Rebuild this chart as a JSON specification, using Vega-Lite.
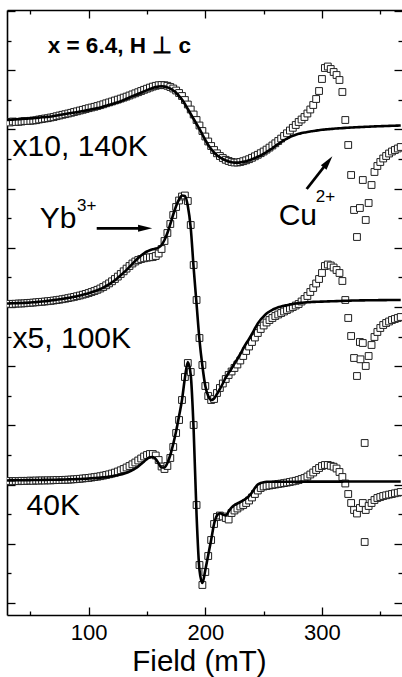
{
  "$schema": "https://vega.github.io/schema/vega-lite/v6.json",
  "width": 395,
  "height": 605,
  "autosize": "none",
  "padding": {"left": 7, "top": 10, "right": 0, "bottom": 62},
  "background": "white",
  "config": {"view": {"stroke": null}, "font": "Liberation Sans", "axis": {"grid": false}},
  "datasets": {
    "spectra": [
      {"B":30,"t":493,"tf":495,"m":311,"mf":311.5,"b":133.5,"bf":134.5},
      {"B":32.5,"t":492.5,"tf":495.2,"m":311.2,"mf":311.6,"b":134,"bf":134.6},
      {"B":35,"t":493.5,"tf":495.4,"m":311,"mf":311.7,"b":133.7,"bf":134.6},
      {"B":37.5,"t":493,"tf":495.6,"m":311.3,"mf":311.8,"b":134,"bf":134.7},
      {"B":40,"t":493.2,"tf":495.8,"m":311.5,"mf":311.9,"b":133.8,"bf":134.7},
      {"B":42.5,"t":493.5,"tf":496,"m":311.5,"mf":312,"b":134.2,"bf":134.8},
      {"B":45,"t":494,"tf":496.2,"m":311.7,"mf":312.1,"b":134,"bf":134.8},
      {"B":47.5,"t":494,"tf":496.4,"m":312,"mf":312.3,"b":134.2,"bf":134.9},
      {"B":50,"t":494.2,"tf":496.6,"m":312.2,"mf":312.5,"b":134.4,"bf":134.9},
      {"B":52.5,"t":494.5,"tf":496.8,"m":312.4,"mf":312.7,"b":134.2,"bf":135},
      {"B":55,"t":494.8,"tf":497.1,"m":312.7,"mf":312.9,"b":134.5,"bf":135},
      {"B":57.5,"t":495.5,"tf":497.4,"m":313,"mf":313.2,"b":134.4,"bf":135},
      {"B":60,"t":496,"tf":497.7,"m":313.2,"mf":313.5,"b":134.6,"bf":135.1},
      {"B":62.5,"t":496.5,"tf":497.9,"m":313.5,"mf":313.8,"b":134.5,"bf":135.1},
      {"B":65,"t":496.8,"tf":498.1,"m":313.8,"mf":314.1,"b":134.7,"bf":135.2},
      {"B":67.5,"t":497.5,"tf":498.5,"m":314.1,"mf":314.5,"b":134.6,"bf":135.2},
      {"B":70,"t":498,"tf":499,"m":314.5,"mf":314.9,"b":134.8,"bf":135.3},
      {"B":72.5,"t":498.8,"tf":499.5,"m":314.9,"mf":315.3,"b":135,"bf":135.3},
      {"B":75,"t":499.5,"tf":500,"m":315.3,"mf":315.7,"b":134.9,"bf":135.4},
      {"B":77.5,"t":500.2,"tf":500.5,"m":315.8,"mf":316.1,"b":135.1,"bf":135.4},
      {"B":80,"t":500.8,"tf":501,"m":316.3,"mf":316.6,"b":135.2,"bf":135.5},
      {"B":82.5,"t":501.5,"tf":501.5,"m":316.9,"mf":317.1,"b":135.3,"bf":135.6},
      {"B":85,"t":502.2,"tf":502,"m":317.5,"mf":317.6,"b":135.5,"bf":135.7},
      {"B":87.5,"t":503,"tf":502.4,"m":318.1,"mf":318.2,"b":135.7,"bf":135.8},
      {"B":90,"t":503.7,"tf":502.9,"m":318.8,"mf":318.8,"b":135.9,"bf":135.9},
      {"B":92.5,"t":504.5,"tf":503.4,"m":319.5,"mf":319.5,"b":136.2,"bf":136},
      {"B":95,"t":505.2,"tf":504,"m":320.3,"mf":320.2,"b":136.5,"bf":136.1},
      {"B":97.5,"t":506,"tf":504.5,"m":321.1,"mf":321,"b":136.8,"bf":136.3},
      {"B":100,"t":506.8,"tf":505.1,"m":322,"mf":321.8,"b":137.1,"bf":136.5},
      {"B":102.5,"t":507.5,"tf":505.7,"m":323,"mf":322.7,"b":137.5,"bf":136.7},
      {"B":105,"t":508.2,"tf":506.3,"m":324,"mf":323.7,"b":137.9,"bf":136.9},
      {"B":107.5,"t":509,"tf":506.9,"m":325.2,"mf":324.8,"b":138.3,"bf":137.1},
      {"B":110,"t":509.8,"tf":507.5,"m":326.5,"mf":326,"b":138.8,"bf":137.4},
      {"B":112.5,"t":510.7,"tf":508.4,"m":328,"mf":327.4,"b":139.4,"bf":137.7},
      {"B":115,"t":511.7,"tf":509.3,"m":329.7,"mf":329,"b":140,"bf":138},
      {"B":117.5,"t":512.6,"tf":510.2,"m":331.6,"mf":330.7,"b":140.7,"bf":138.4},
      {"B":120,"t":513.5,"tf":511,"m":333.7,"mf":332.7,"b":141.5,"bf":138.8},
      {"B":122.5,"t":514.5,"tf":511.9,"m":336,"mf":334.8,"b":142.4,"bf":139.3},
      {"B":125,"t":515.4,"tf":512.8,"m":338.4,"mf":337.2,"b":143.5,"bf":139.8},
      {"B":127.5,"t":516.4,"tf":513.8,"m":341,"mf":339.7,"b":144.7,"bf":140.4},
      {"B":130,"t":517.4,"tf":515,"m":343.7,"mf":342.4,"b":146,"bf":141.2},
      {"B":132.5,"t":518.4,"tf":516.2,"m":346.4,"mf":345.2,"b":147.5,"bf":142.2},
      {"B":135,"t":519.5,"tf":517.5,"m":349,"mf":348.2,"b":149,"bf":143.4},
      {"B":137.5,"t":520.6,"tf":518.9,"m":351.5,"mf":351.2,"b":150.7,"bf":144.8},
      {"B":140,"t":521.7,"tf":520,"m":353.5,"mf":354.2,"b":152.5,"bf":146.5},
      {"B":142.5,"t":522.8,"tf":521.2,"m":355,"mf":357,"b":154.5,"bf":148.5},
      {"B":145,"t":524,"tf":522.4,"m":356,"mf":359.5,"b":156.5,"bf":151},
      {"B":147.5,"t":525.2,"tf":523.6,"m":356.7,"mf":361.7,"b":158.5,"bf":153.5},
      {"B":150,"t":526.3,"tf":524.9,"m":357.3,"mf":363.5,"b":160,"bf":156},
      {"B":152.5,"t":527.4,"tf":526,"m":357.7,"mf":364.8,"b":161,"bf":157.7},
      {"B":155,"t":528.4,"tf":527,"m":358,"mf":365.7,"b":161,"bf":158},
      {"B":157.5,"t":529.2,"tf":527.9,"m":359,"mf":366.4,"b":159.5,"bf":156},
      {"B":160,"t":529.8,"tf":528.5,"m":361.5,"mf":367.5,"b":155,"bf":151.5},
      {"B":162.5,"t":530,"tf":528.7,"m":366,"mf":370,"b":148.5,"bf":147.5},
      {"B":165,"t":529.8,"tf":528.4,"m":374,"mf":375,"b":146,"bf":147.5},
      {"B":167.5,"t":529.2,"tf":527.6,"m":382,"mf":382,"b":149,"bf":152},
      {"B":170,"t":528,"tf":526.3,"m":391,"mf":391,"b":157,"bf":160},
      {"B":172.5,"t":526.5,"tf":524.5,"m":400,"mf":400.5,"b":168,"bf":171},
      {"B":175,"t":524.5,"tf":522.3,"m":408,"mf":409,"b":182,"bf":184},
      {"B":177.5,"t":522,"tf":519,"m":414.5,"mf":415.5,"b":195,"bf":199},
      {"B":180,"t":519,"tf":515.5,"m":418.5,"mf":419.5,"b":215,"bf":215},
      {"B":182.5,"t":515,"tf":511,"m":419.5,"mf":419,"b":238,"bf":237},
      {"B":185,"t":510.5,"tf":506,"m":414,"mf":409,"b":252,"bf":253},
      {"B":187.5,"t":505.5,"tf":501,"m":390,"mf":387,"b":243,"bf":240},
      {"B":190,"t":500.5,"tf":496,"m":350,"mf":347,"b":190,"bf":185},
      {"B":192.5,"t":495,"tf":491,"m":315,"mf":311,"b":110,"bf":100},
      {"B":195,"t":489.5,"tf":486,"m":277,"mf":275,"b":50,"bf":45},
      {"B":197.5,"t":484,"tf":480.5,"m":250,"mf":249,"b":30,"bf":32},
      {"B":200,"t":478.5,"tf":475,"m":229,"mf":229,"b":43,"bf":45},
      {"B":202.5,"t":473.5,"tf":470,"m":219,"mf":219,"b":59,"bf":60},
      {"B":205,"t":469,"tf":466,"m":215,"mf":215,"b":75,"bf":75},
      {"B":207.5,"t":465,"tf":462.5,"m":216,"mf":216.5,"b":91,"bf":91},
      {"B":210,"t":461.7,"tf":459.8,"m":222,"mf":221,"b":98,"bf":99.5},
      {"B":212.5,"t":459,"tf":457.7,"m":227,"mf":226,"b":99.5,"bf":101.8},
      {"B":215,"t":457,"tf":456,"m":231.5,"mf":231.5,"b":98.5,"bf":100.5},
      {"B":217.5,"t":455.2,"tf":454.6,"m":236,"mf":237.5,"b":97,"bf":99.5},
      {"B":220,"t":454,"tf":453.4,"m":240,"mf":242,"b":95.5,"bf":103.5},
      {"B":222.5,"t":453,"tf":452.7,"m":243.5,"mf":246.5,"b":102,"bf":107.5},
      {"B":225,"t":452.5,"tf":452.4,"m":247,"mf":251.5,"b":104.5,"bf":110},
      {"B":227.5,"t":452.5,"tf":452.4,"m":250.5,"mf":256,"b":106.5,"bf":111.5},
      {"B":230,"t":453,"tf":452.6,"m":254.5,"mf":261,"b":108.5,"bf":113},
      {"B":232.5,"t":453.8,"tf":453.2,"m":259,"mf":266.5,"b":110,"bf":114.7},
      {"B":235,"t":454.7,"tf":453.8,"m":264,"mf":271.5,"b":112,"bf":116.5},
      {"B":237.5,"t":455.8,"tf":454.7,"m":268.5,"mf":276,"b":114.5,"bf":119},
      {"B":240,"t":457.2,"tf":455.8,"m":273,"mf":281,"b":117.5,"bf":122.5},
      {"B":242.5,"t":458.7,"tf":457,"m":277.5,"mf":286.5,"b":121,"bf":127},
      {"B":245,"t":460.2,"tf":458.2,"m":282,"mf":291.5,"b":124.5,"bf":130.5},
      {"B":247.5,"t":461.8,"tf":459.5,"m":286,"mf":295.5,"b":127,"bf":132},
      {"B":250,"t":463.5,"tf":461.2,"m":289.5,"mf":298.5,"b":128.5,"bf":132.8},
      {"B":252.5,"t":465.4,"tf":463,"m":292.5,"mf":301.5,"b":129,"bf":133.2},
      {"B":255,"t":467.4,"tf":464.8,"m":295,"mf":303.5,"b":129.5,"bf":133.3},
      {"B":257.5,"t":469.5,"tf":466.8,"m":297,"mf":305.2,"b":130,"bf":133.3},
      {"B":260,"t":471.7,"tf":469,"m":299,"mf":306.5,"b":130.5,"bf":133.3},
      {"B":262.5,"t":474,"tf":471,"m":300.5,"mf":307.7,"b":131,"bf":133.3},
      {"B":265,"t":476.4,"tf":473,"m":302,"mf":308.5,"b":131.4,"bf":133.3},
      {"B":267.5,"t":479,"tf":474.8,"m":303.5,"mf":309.2,"b":131.9,"bf":133.3},
      {"B":270,"t":481.7,"tf":476.4,"m":305,"mf":309.8,"b":132.4,"bf":133.3},
      {"B":272.5,"t":484.5,"tf":478,"m":306.5,"mf":310.4,"b":133,"bf":133.3},
      {"B":275,"t":487.2,"tf":479.2,"m":308,"mf":311,"b":133.6,"bf":133.3},
      {"B":277.5,"t":490,"tf":480.3,"m":309.5,"mf":311.5,"b":134.2,"bf":133.3},
      {"B":280,"t":493,"tf":481.2,"m":311,"mf":311.9,"b":135,"bf":133.3},
      {"B":282.5,"t":495.5,"tf":481.9,"m":313.5,"mf":312.2,"b":136,"bf":133.4},
      {"B":285,"t":498,"tf":482.5,"m":316,"mf":312.5,"b":137,"bf":133.4},
      {"B":287.5,"t":501.5,"tf":483,"m":319,"mf":312.7,"b":138.5,"bf":133.4},
      {"B":290,"t":505.5,"tf":483.5,"m":323,"mf":312.9,"b":140.5,"bf":133.4},
      {"B":292.5,"t":510,"tf":484,"m":327,"mf":313.1,"b":142.5,"bf":133.4},
      {"B":295,"t":516,"tf":484.4,"m":331.5,"mf":313.2,"b":145,"bf":133.4},
      {"B":297.5,"t":524,"tf":484.8,"m":336,"mf":313.3,"b":147,"bf":133.4},
      {"B":300,"t":536,"tf":485.2,"m":342,"mf":313.4,"b":149,"bf":133.4},
      {"B":302.5,"t":547,"tf":485.5,"m":349,"mf":313.5,"b":150,"bf":133.4},
      {"B":305,"t":548.5,"tf":485.8,"m":350.5,"mf":313.6,"b":150,"bf":133.4},
      {"B":307.5,"t":546,"tf":486,"m":349.5,"mf":313.7,"b":149.2,"bf":133.4},
      {"B":310,"t":543,"tf":486.3,"m":347.5,"mf":313.8,"b":148.3,"bf":133.4},
      {"B":312.5,"t":540,"tf":486.5,"m":345,"mf":313.9,"b":146.5,"bf":133.4},
      {"B":315,"t":535,"tf":486.7,"m":342,"mf":314,"b":143,"bf":133.4},
      {"B":317.5,"t":523,"tf":486.9,"m":334,"mf":314.1,"b":138,"bf":133.4},
      {"B":320,"t":495,"tf":487.1,"m":315,"mf":314.2,"b":131.5,"bf":133.5},
      {"B":322.5,"t":470,"tf":487.3,"m":297,"mf":314.3,"b":121,"bf":133.5},
      {"B":325,"t":440,"tf":487.5,"m":279,"mf":314.4,"b":112,"bf":133.5},
      {"B":327.5,"t":405,"tf":487.6,"m":257,"mf":314.5,"b":105,"bf":133.5},
      {"B":330,"t":378,"tf":487.8,"m":239,"mf":314.5,"b":101.5,"bf":133.5},
      {"B":332.5,"t":407,"tf":487.9,"m":273,"mf":314.6,"b":107,"bf":133.5},
      {"B":335,"t":435,"tf":488,"m":272,"mf":314.6,"b":112,"bf":133.5},
      {"B":337.5,"t":395,"tf":488.2,"m":249,"mf":314.7,"b":105,"bf":133.5},
      {"B":340,"t":412,"tf":488.3,"m":259,"mf":314.7,"b":109,"bf":133.5},
      {"B":342.5,"t":430,"tf":488.5,"m":270,"mf":314.8,"b":112,"bf":133.5},
      {"B":345,"t":443,"tf":488.6,"m":278,"mf":314.8,"b":115,"bf":133.5},
      {"B":347.5,"t":449,"tf":488.7,"m":283,"mf":314.8,"b":117,"bf":133.5},
      {"B":350,"t":453,"tf":488.8,"m":287,"mf":314.9,"b":118,"bf":133.5},
      {"B":352.5,"t":456.5,"tf":488.9,"m":290,"mf":314.9,"b":119,"bf":133.5},
      {"B":355,"t":459,"tf":489,"m":292,"mf":314.9,"b":119.7,"bf":133.5},
      {"B":357.5,"t":461.5,"tf":489.1,"m":293.5,"mf":315,"b":120.4,"bf":133.5},
      {"B":360,"t":463.5,"tf":489.2,"m":295,"mf":315,"b":121,"bf":133.5},
      {"B":362.5,"t":465,"tf":489.3,"m":296,"mf":315,"b":121.7,"bf":133.5},
      {"B":365,"t":466.5,"tf":489.4,"m":297,"mf":315,"b":122.3,"bf":133.5},
      {"B":367.5,"t":468,"tf":489.5,"m":298,"mf":315,"b":123,"bf":133.5},
      {"B":333,"m":255.7},
      {"B":336.6,"b":172},
      {"B":336.6,"b":73}
    ]
  },
  "layer": [
    {
      "data": {"name": "spectra"},
      "transform": [
        {"fold": ["t", "m", "b"], "as": ["curve", "I"]},
        {"filter": "isValid(datum.I)"}
      ],
      "mark": {"type": "point", "shape": "square", "filled": true, "fill": "white", "stroke": "#1e1e1e", "strokeWidth": 1, "size": 46, "opacity": 1, "clip": true},
      "encoding": {
        "x": {
          "field": "B", "type": "quantitative",
          "scale": {"domain": [30, 368.6], "nice": false, "zero": false},
          "axis": {
            "orient": "bottom",
            "values": [50, 100, 150, 200, 250, 300, 350],
            "tickSize": {"condition": {"test": "datum.value % 100 === 0", "value": -8}, "value": -4},
            "tickColor": "black", "tickWidth": 1.3,
            "domainColor": "black", "domainWidth": 1.6,
            "labelExpr": "datum.value % 100 === 0 ? datum.label : ''",
            "labelFont": "Liberation Sans", "labelFontSize": 22, "labelColor": "black",
            "labelBaseline": "alphabetic", "labelPadding": 32,
            "labelOverlap": false, "labelFlush": false,
            "title": "Field (mT)", "titleFont": "Liberation Sans", "titleFontSize": 29.5,
            "titleFontWeight": "normal", "titleColor": "black",
            "titleBaseline": "alphabetic", "titleAlign": "center", "titleX": 192, "titleY": 55.5
          }
        },
        "y": {
          "field": "I", "type": "quantitative",
          "scale": {"domain": [0, 605], "nice": false, "zero": false},
          "axis": {
            "orient": "left",
            "values": [12, 41.6, 71.2, 100.8, 130.4, 160, 189.6, 219.2, 248.8, 278.4, 308, 337.6, 367.2, 396.8, 426.4, 456, 485.6, 515.2, 544.8, 574.4, 604],
            "tickSize": {"condition": {"test": "round((datum.value - 12) / 29.6) % 2 === 0", "value": -8}, "value": -4},
            "tickColor": "black", "tickWidth": 1.3,
            "domainColor": "black", "domainWidth": 1.6,
            "labels": false, "title": null
          }
        }
      }
    },
    {
      "data": {"name": "spectra"},
      "transform": [
        {"fold": ["tf", "mf", "bf"], "as": ["curve", "I"]},
        {"filter": "isValid(datum.I)"}
      ],
      "mark": {"type": "line", "color": "black", "strokeWidth": 2.6, "interpolate": "monotone", "clip": true},
      "encoding": {
        "x": {
          "field": "B", "type": "quantitative",
          "scale": {"domain": [30, 368.6], "nice": false, "zero": false},
          "axis": {
            "orient": "top",
            "values": [50, 100, 150, 200, 250, 300, 350],
            "tickSize": {"condition": {"test": "datum.value % 100 === 0", "value": -8}, "value": -4},
            "tickColor": "black", "tickWidth": 1.3,
            "domainColor": "black", "domainWidth": 1.6,
            "labels": false, "title": null
          }
        },
        "y": {
          "field": "I", "type": "quantitative",
          "scale": {"domain": [0, 605], "nice": false, "zero": false},
          "axis": {
            "orient": "right",
            "values": [12, 41.6, 71.2, 100.8, 130.4, 160, 189.6, 219.2, 248.8, 278.4, 308, 337.6, 367.2, 396.8, 426.4, 456, 485.6, 515.2, 544.8, 574.4, 604],
            "tickSize": {"condition": {"test": "round((datum.value - 12) / 29.6) % 2 === 0", "value": -8}, "value": -4},
            "tickColor": "black", "tickWidth": 1.3,
            "domain": false, "labels": false, "title": null
          }
        },
        "detail": {"field": "curve"}
      }
    },
    {
      "data": {"values": [
        {"B": 34.8, "I": 459, "txt": "x10, 140K"},
        {"B": 34.8, "I": 267, "txt": "x5, 100K"},
        {"B": 46.8, "I": 100, "txt": "40K"},
        {"B": 58, "I": 387, "txt": "Yb"},
        {"B": 262.9, "I": 390.5, "txt": "Cu"}
      ]},
      "mark": {"type": "text", "align": "left", "baseline": "alphabetic", "font": "Liberation Sans", "fontSize": 30, "color": "black"},
      "encoding": {
        "x": {"field": "B", "type": "quantitative", "axis": null},
        "y": {"field": "I", "type": "quantitative", "axis": null},
        "text": {"field": "txt"}
      }
    },
    {
      "data": {"values": [
        {"B": 90.1, "I": 404, "txt": "3+"},
        {"B": 294.6, "I": 413, "txt": "2+"}
      ]},
      "mark": {"type": "text", "align": "left", "baseline": "alphabetic", "font": "Liberation Sans", "fontSize": 17, "color": "black"},
      "encoding": {
        "x": {"field": "B", "type": "quantitative", "axis": null},
        "y": {"field": "I", "type": "quantitative", "axis": null},
        "text": {"field": "txt"}
      }
    },
    {
      "data": {"values": [
        {"B": 64.9, "I": 561.7, "txt": "x = 6.4, H ⊥ c"}
      ]},
      "mark": {"type": "text", "align": "left", "baseline": "alphabetic", "font": "Liberation Sans", "fontSize": 22.5, "fontWeight": "bold", "color": "black"},
      "encoding": {
        "x": {"field": "B", "type": "quantitative", "axis": null},
        "y": {"field": "I", "type": "quantitative", "axis": null},
        "text": {"field": "txt"}
      }
    },
    {
      "data": {"values": [
        {"B1": 106.9, "I1": 386.7, "B2": 144.6, "I2": 386.7},
        {"B1": 286.9, "I1": 426, "B2": 302.3, "I2": 449}
      ]},
      "mark": {"type": "rule", "color": "black", "strokeWidth": 2.8},
      "encoding": {
        "x": {"field": "B1", "type": "quantitative", "axis": null},
        "y": {"field": "I1", "type": "quantitative", "axis": null},
        "x2": {"field": "B2"},
        "y2": {"field": "I2"}
      }
    },
    {
      "data": {"values": [{"B": 148.4, "I": 386.7}]},
      "mark": {"type": "point", "shape": "M0,-1L0.5,1L-0.5,1Z", "filled": true, "color": "black", "opacity": 1, "size": 200, "angle": 90, "strokeWidth": 0},
      "encoding": {
        "x": {"field": "B", "type": "quantitative", "axis": null},
        "y": {"field": "I", "type": "quantitative", "axis": null}
      }
    },
    {
      "data": {"values": [{"B": 305.2, "I": 453.1}]},
      "mark": {"type": "point", "shape": "M0,-1L0.5,1L-0.5,1Z", "filled": true, "color": "black", "opacity": 1, "size": 200, "angle": 38, "strokeWidth": 0},
      "encoding": {
        "x": {"field": "B", "type": "quantitative", "axis": null},
        "y": {"field": "I", "type": "quantitative", "axis": null}
      }
    }
  ],
  "resolve": {"axis": {"x": "independent", "y": "independent"}}
}
